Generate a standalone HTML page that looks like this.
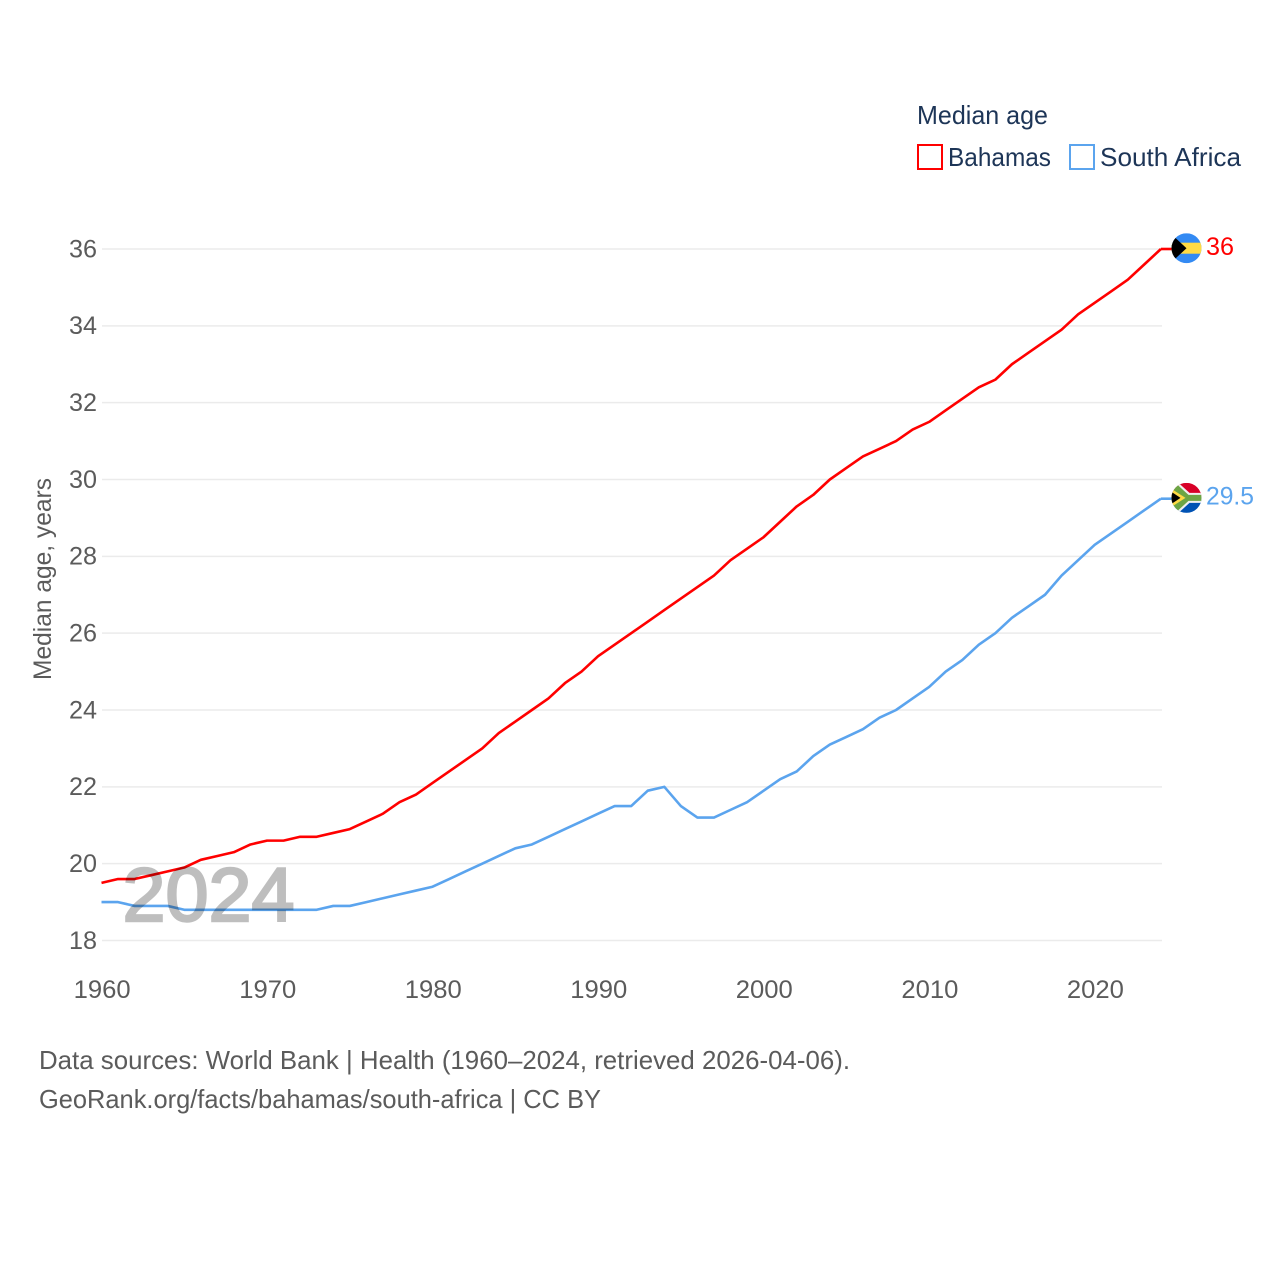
<!DOCTYPE html>
<html lang="en">
<head>
<meta charset="utf-8">
<title>Median age: Bahamas and South Africa</title>
<style>
  html, body { margin: 0; padding: 0; background: #fff; }
  svg { display: block; font-family: "Liberation Sans", sans-serif; }
</style>
</head>
<body>
<svg id="chart" xmlns="http://www.w3.org/2000/svg" width="1280" height="1280" viewBox="0 0 1280 1280">
  <defs>
    <clipPath id="flag-clip"><circle cx="0" cy="0" r="15"></circle></clipPath>
  </defs>
  <rect x="0" y="0" width="1280" height="1280" fill="#ffffff"></rect>

  <g>
    <text x="917" y="124" font-size="26" fill="#1d3557" textLength="131" lengthAdjust="spacingAndGlyphs">Median age</text>
    <g>
      <rect x="918" y="145" width="24" height="24" fill="#fff" stroke="#ff0000" stroke-width="2"></rect>
      <text x="948" y="166" font-size="26" fill="#1d3557" textLength="103" lengthAdjust="spacingAndGlyphs">Bahamas</text>
    </g>
    <g>
      <rect x="1070" y="145" width="24" height="24" fill="#fff" stroke="#5ba4ee" stroke-width="2"></rect>
      <text x="1100" y="166" font-size="26" fill="#1d3557" textLength="141" lengthAdjust="spacingAndGlyphs">South Africa</text>
    </g>
  </g>

  <g id="grid"></g>
  <g id="y-ticks"></g>
  <g id="x-ticks"></g>
  <text transform="translate(51,680) rotate(-90)" font-size="25" fill="#5b5b5b" textLength="202" lengthAdjust="spacingAndGlyphs">Median age, years</text>
  <g id="series"></g>

  <text x="122.5" y="921" font-size="76" fill="#000000" stroke="#000000" stroke-width="2.4" opacity="0.25" textLength="172" lengthAdjust="spacingAndGlyphs">2024</text>

  <g id="flag-bahamas">
    <g clip-path="url(#flag-clip)">
      <rect x="-15" y="-15" width="30" height="30" fill="#338af3"></rect>
      <rect x="-15" y="-5.5" width="30" height="11" fill="#ffda44"></rect>
      <polygon points="-15,-14 0,0 -15,14" fill="#000000"></polygon>
    </g>
  </g>
  <g id="flag-south-africa">
    <g clip-path="url(#flag-clip)">
      <rect x="-15" y="-15" width="30" height="15" fill="#d80027"></rect>
      <rect x="-15" y="0" width="30" height="15" fill="#0052b4"></rect>
      <polygon points="-15,-15 -8,-15 3,-5 15,-5 15,5 3,5 -8,15 -15,15" fill="#f0f0f0"></polygon>
      <polygon points="-15,-13 -9,-13 2,-3 15,-3 15,3 2,3 -9,13 -15,13" fill="#6da544"></polygon>
      <polygon points="-15,-9 -1,0 -15,9" fill="#ffda44"></polygon>
      <polygon points="-15,-6 -6,0 -15,6" fill="#000000"></polygon>
    </g>
  </g>
  <g id="end-labels"></g>

  <g>
    <text x="39" y="1069" font-size="26" fill="#5b5b5b" textLength="811" lengthAdjust="spacingAndGlyphs">Data sources: World Bank | Health (1960–2024, retrieved 2026-04-06).</text>
    <text x="39" y="1108" font-size="26" fill="#5b5b5b" textLength="562" lengthAdjust="spacingAndGlyphs">GeoRank.org/facts/bahamas/south-africa | CC BY</text>
  </g>
</svg>

<script>
const firstYear = 1960;
const bahamasValues = [19.5,19.6,19.6,19.7,19.8,19.9,20.1,20.2,20.3,20.5,20.6,20.6,20.7,20.7,20.8,20.9,21.1,21.3,21.6,21.8,22.1,22.4,22.7,23.0,23.4,23.7,24.0,24.3,24.7,25.0,25.4,25.7,26.0,26.3,26.6,26.9,27.2,27.5,27.9,28.2,28.5,28.9,29.3,29.6,30.0,30.3,30.6,30.8,31.0,31.3,31.5,31.8,32.1,32.4,32.6,33.0,33.3,33.6,33.9,34.3,34.6,34.9,35.2,35.6,36.0];
const southAfricaValues = [19.0,19.0,18.9,18.9,18.9,18.8,18.8,18.8,18.8,18.8,18.8,18.8,18.8,18.8,18.9,18.9,19.0,19.1,19.2,19.3,19.4,19.6,19.8,20.0,20.2,20.4,20.5,20.7,20.9,21.1,21.3,21.5,21.5,21.9,22.0,21.5,21.2,21.2,21.4,21.6,21.9,22.2,22.4,22.8,23.1,23.3,23.5,23.8,24.0,24.3,24.6,25.0,25.3,25.7,26.0,26.4,26.7,27.0,27.5,27.9,28.3,28.6,28.9,29.2,29.5];
const yTickValues = [18,20,22,24,26,28,30,32,34,36];
const xTickValues = [1960,1970,1980,1990,2000,2010,2020];

const SVG_NS = 'http://www.w3.org/2000/svg';
function xScale(year) { return 101.5 + (year - 1960) * (1160.9 - 101.5) / 64; }
function yScale(value) { return 940.5 - (value - 18) * (940.5 - 249) / 18; }
function make(tag, attrs, parent, text) {
  const el = document.createElementNS(SVG_NS, tag);
  for (const k in attrs) el.setAttribute(k, attrs[k]);
  if (text !== undefined) el.textContent = text;
  parent.appendChild(el);
  return el;
}

const gridGroup = document.getElementById('grid');
const yTickGroup = document.getElementById('y-ticks');
yTickValues.forEach(function (v) {
  const line = make('line', { x1: 102, x2: 1162, y1: yScale(v), y2: yScale(v), stroke: '#ebebeb', 'stroke-width': 1.5 }, gridGroup);
  
  
  const label = make('text', { x: 97, y: yScale(v) + 8.4, 'text-anchor': 'end', 'font-size': 25, fill: '#5b5b5b', textLength: 28, lengthAdjust: 'spacingAndGlyphs' }, yTickGroup, String(v));
  
  
});

const xTickGroup = document.getElementById('x-ticks');
xTickValues.forEach(function (year) {
  const label = make('text', { x: xScale(year) + 0.7, y: 998, 'text-anchor': 'middle', 'font-size': 25, fill: '#5b5b5b', textLength: 57, lengthAdjust: 'spacingAndGlyphs' }, xTickGroup, String(year));
  
  
});

const flagCenterX = 1186.5;
function drawSeries(values, color, key, flagId, labelWidth) {
  const group = document.getElementById('series');
  const pts = values.map(function (v, i) {
    return xScale(firstYear + i).toFixed(2) + ',' + yScale(v).toFixed(2);
  });
  const last = values[values.length - 1];
  const endY = yScale(last);
  const path = make('polyline', { points: pts.join(' '), fill: 'none', stroke: color, 'stroke-width': 2.6, 'stroke-linejoin': 'round' }, group);
  
  
  const connector = make('line', { x1: xScale(firstYear + values.length - 1), x2: 1172, y1: endY, y2: endY, stroke: color, 'stroke-width': 2.6 }, group);
  
  
  document.getElementById(flagId).setAttribute('transform', 'translate(' + flagCenterX + ',' + (endY - 0.8) + ')');
  const label = make('text', { x: 1206, y: endY + 5.8, 'font-size': 25, fill: color, textLength: labelWidth, lengthAdjust: 'spacingAndGlyphs' }, document.getElementById('end-labels'), String(last));
  
  
}
drawSeries(bahamasValues, '#ff0000', 'bahamas', 'flag-bahamas', 28);
drawSeries(southAfricaValues, '#5ba4ee', 'south-africa', 'flag-south-africa', 48);
</script>
</body>
</html>
